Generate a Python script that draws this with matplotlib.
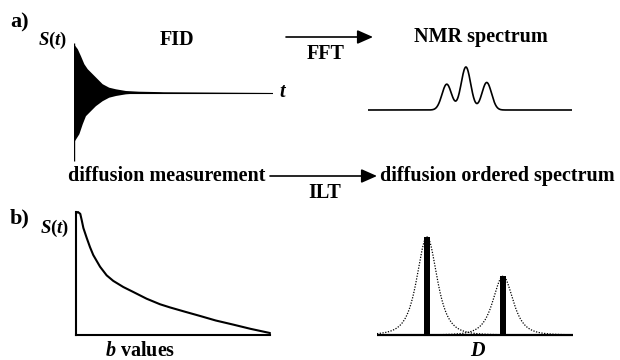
import numpy as np
import matplotlib
matplotlib.use("Agg")
import matplotlib.pyplot as plt

plt.rcParams['font.family'] = ['Liberation Serif', 'DejaVu Serif']
plt.rcParams['font.weight'] = 'bold'
plt.rcParams['mathtext.fontset'] = 'custom'
plt.rcParams['mathtext.rm'] = 'Liberation Serif:bold'
plt.rcParams['mathtext.it'] = 'Liberation Serif:italic:bold'

W, H = 620, 360

# FID envelope (fraction of the first point), t from 0 to 1
fid_t_up = [0.0, 0.019, 0.035, 0.052, 0.069, 0.094, 0.119, 0.144, 0.177, 0.211, 0.261, 0.327, 0.45, 1.0]
fid_upper = [0.97, 0.87, 0.73, 0.57, 0.47, 0.37, 0.27, 0.17, 0.10, 0.068, 0.034, 0.02, 0.01, 0.0]
fid_t_low = [0.0, 0.027, 0.044, 0.06, 0.085, 0.11, 0.144, 0.177, 0.211, 0.261, 0.327, 0.45, 1.0]
fid_lower = [1.0, 0.83, 0.63, 0.47, 0.37, 0.27, 0.17, 0.10, 0.066, 0.032, 0.012, 0.005, 0.0]
fid_spike = [-1.36, 1.0]

# NMR spectrum: three lines of a triplet
nmr_pos = [0.386, 0.480, 0.582]
nmr_height = [0.60, 1.0, 0.64]
nmr_sigma = 0.0235

# diffusion decay S(b)
b_vals = [0.0, 0.01, 0.022, 0.03, 0.038, 0.055, 0.072, 0.089, 0.124, 0.158, 0.192,
          0.244, 0.295, 0.364, 0.433, 0.485, 0.56, 0.639, 0.72, 0.809, 0.9, 1.0]
s_vals = [0.99, 1.0, 0.985, 0.93, 0.87, 0.79, 0.715, 0.65, 0.555, 0.485, 0.44,
          0.39, 0.35, 0.295, 0.25, 0.224, 0.19, 0.155, 0.118, 0.085, 0.05, 0.016]

# diffusion ordered spectrum: two components
dosy_pos = [0.255, 0.643]
dosy_amp = [1.0, 0.60]
dosy_width = 0.093


def box(x0, y0, x1, y1):
    ax = fig.add_axes([x0 / W, 1 - y1 / H, (x1 - x0) / W, (y1 - y0) / H])
    ax.set_axis_off()
    return ax


fig = plt.figure(figsize=(W / 100, H / 100), dpi=100)

# --- FID ---
ax = box(74, 42, 273, 162)
ax.set_xlim(0, 1)
ax.set_ylim(-1.386, 1.014)
ax.fill(np.r_[fid_t_up, fid_t_low[::-1]],
        np.r_[fid_upper, -np.array(fid_lower[::-1])], color='black', lw=0)
ax.vlines(fid_t_up[0], fid_spike[0], fid_spike[1], color='black', lw=1.0)
ax.axhline(0, color='black', lw=0.8)

# --- NMR spectrum ---
ax = box(368, 62, 572, 114)
ax.set_xlim(0, 1)
ax.set_ylim(-4 / 43, 48 / 43)
x = np.linspace(0, 1, 600)
spec = np.zeros_like(x)
for p, h in zip(nmr_pos, nmr_height):
    spec += h * np.exp(-(x - p) ** 2 / (2 * nmr_sigma ** 2))
ax.plot(x, spec, color='black', lw=1.2)

# --- decay ---
ax = fig.add_axes([76 / W, 1 - 335 / H, 194 / W, 123 / H])
ax.set_xlim(0, 1)
ax.set_ylim(0, 1)
ax.set_xticks([])
ax.set_yticks([])
for side in ['top', 'right']:
    ax.spines[side].set_visible(False)
for side in ['left', 'bottom']:
    ax.spines[side].set_linewidth(1.5)
ax.plot(b_vals, s_vals, color='black', lw=1.5, clip_on=False, solid_capstyle='round')

# --- DOSY ---
ax = box(377, 230, 573, 340)
ax.set_xlim(0, 1)
ax.set_ylim(-5 / 98, 105 / 98)
x = np.linspace(0, 1, 600)
for p, a in zip(dosy_pos, dosy_amp):
    ax.plot(x, a / (1 + ((x - p) / dosy_width) ** 2) ** 2, color='black',
            lw=0.9, ls=(0, (1, 1.2)))
ax.bar(dosy_pos, dosy_amp, width=0.026, color='black')
ax.axhline(0, color='black', lw=1.6)

# --- labels and arrows ---
ov = fig.add_axes([0, 0, 1, 1])
ov.set_axis_off()
ov.set_xlim(0, W)
ov.set_ylim(H, 0)

fs = 14.5
ov.text(10, 22, 'a)', fontsize=16, ha='left', va='center')
ov.text(10, 218, 'b)', fontsize=16, ha='left', va='center')
ov.text(53, 40, '$S(t)$', fontsize=13.5, ha='center', va='center')
ov.text(55, 228, '$S(t)$', fontsize=13.5, ha='center', va='center')
ov.text(177, 40, 'FID', fontsize=fs, ha='center', va='center')
ov.text(283, 92, '$t$', fontsize=fs, ha='center', va='center')
ov.text(481, 37, 'NMR spectrum', fontsize=fs, ha='center', va='center')
ov.text(326, 54, 'FFT', fontsize=fs, ha='center', va='center')
ov.text(167, 176, 'diffusion measurement', fontsize=fs, ha='center', va='center')
ov.text(380, 176, 'diffusion ordered spectrum', fontsize=fs, ha='left', va='center')
ov.text(325, 193, 'ILT', fontsize=fs, ha='center', va='center')
ov.text(140, 351, '$b$ values', fontsize=fs, ha='center', va='center')
ov.text(478, 351, '$D$', fontsize=fs, ha='center', va='center')

arrow = dict(arrowstyle='-|>,head_length=0.95,head_width=0.42', mutation_scale=10,
             lw=1.2, color='black', shrinkA=0, shrinkB=0)
ov.annotate('', xy=(373, 37), xytext=(286, 37), arrowprops=arrow)
ov.annotate('', xy=(377, 176), xytext=(270, 176), arrowprops=arrow)

fig.savefig('out.png', dpi=100)
